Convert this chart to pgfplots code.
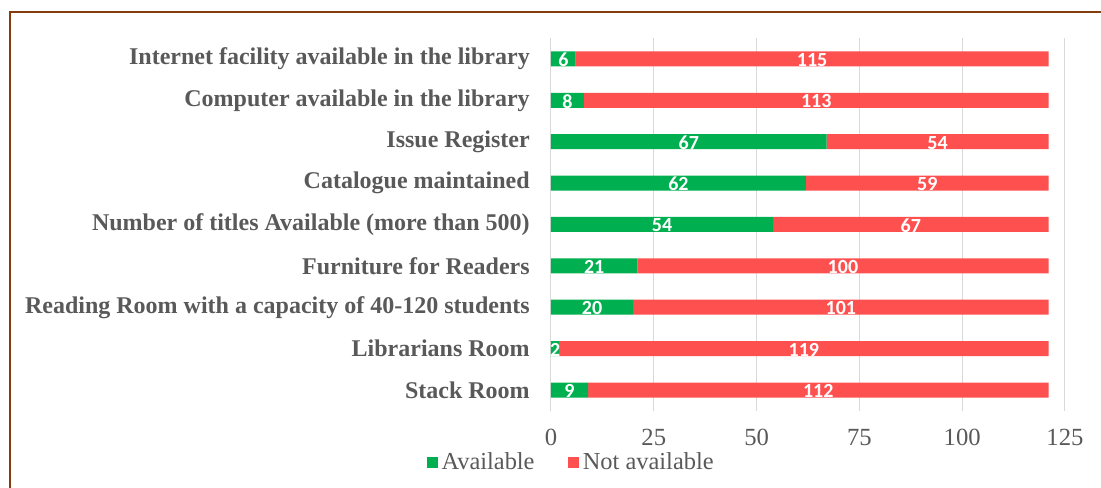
\documentclass[border=0pt]{standalone}
\usepackage{pgfplots}
\pgfplotsset{compat=1.18}
\usepackage{fontspec}
\setmainfont{Liberation Serif}
\newfontfamily\calibri{Carlito}
\definecolor{cgreen}{HTML}{00B050}
\definecolor{cred}{HTML}{FF5050}
\definecolor{ctext}{HTML}{595959}
\definecolor{cframe}{HTML}{843C0C}
\definecolor{cgrid}{HTML}{D9D9D9}
\pgfplotstableread{
idx avail notavail
0 9 112
1 2 119
2 20 101
3 21 100
4 54 67
5 62 59
6 67 54
7 8 113
8 6 115
}\datatable
\begin{document}
\begin{tikzpicture}
\useasboundingbox (0,0) rectangle (825.75pt,366pt);
\draw[cframe, line width=1.1pt] (7.5pt,-20pt) -- (7.5pt,357pt) -- (850pt,357pt);
\begin{axis}[
  at={(413.25pt,57.975pt)}, anchor=south west,
  scale only axis, width=385.5pt, height=279.3pt,
  xbar stacked, bar width=11.25pt,
  xmin=0, xmax=125, ymin=-0.5, ymax=8.5,
  xtick={0,25,50,75,100,125},
  ytick={0,...,8},
  yticklabels={Stack Room, Librarians Room, Reading Room with a capacity of 40-120 students, Furniture for Readers, Number of titles Available (more than 500), Catalogue maintained, Issue Register\ , Computer available in the library, Internet facility available in the library},
  axis line style={draw=none},
  major tick length=0pt,
  xmajorgrids, grid style={cgrid, line width=0.75pt},
  /pgf/number format/assume math mode=true,
  xticklabel style={font=\fontsize{18.5}{18.5}\selectfont, text=ctext, yshift=-10.5pt},
  yticklabel style={font=\fontsize{18}{18}\selectfont\bfseries, text=ctext, inner sep=0pt, xshift=-15.75pt},
  nodes near coords,
  every node near coord/.append style={anchor=center, yshift=-0.8pt, inner sep=0pt, text=white, font=\calibri\bfseries\fontsize{15}{15}\selectfont},
  legend columns=2,
  legend style={at={(0.041,-0.138)}, anchor=center, draw=none, fill=none, font=\fontsize{18.3}{18.3}\selectfont, text=ctext,
    /tikz/every even column/.append style={column sep=22pt}, inner sep=0pt,
    nodes={inner xsep=3pt}},
  legend image code/.code={\fill[#1] (0pt,-4.1pt) rectangle (8.25pt,4.1pt);},
]
\addplot[fill=cgreen, draw=none] table[x=avail, y=idx] {\datatable};
\addlegendentry{Available}
\addplot[fill=cred, draw=none] table[x=notavail, y=idx] {\datatable};
\addlegendentry{Not available}
\end{axis}
\end{tikzpicture}
\end{document}
